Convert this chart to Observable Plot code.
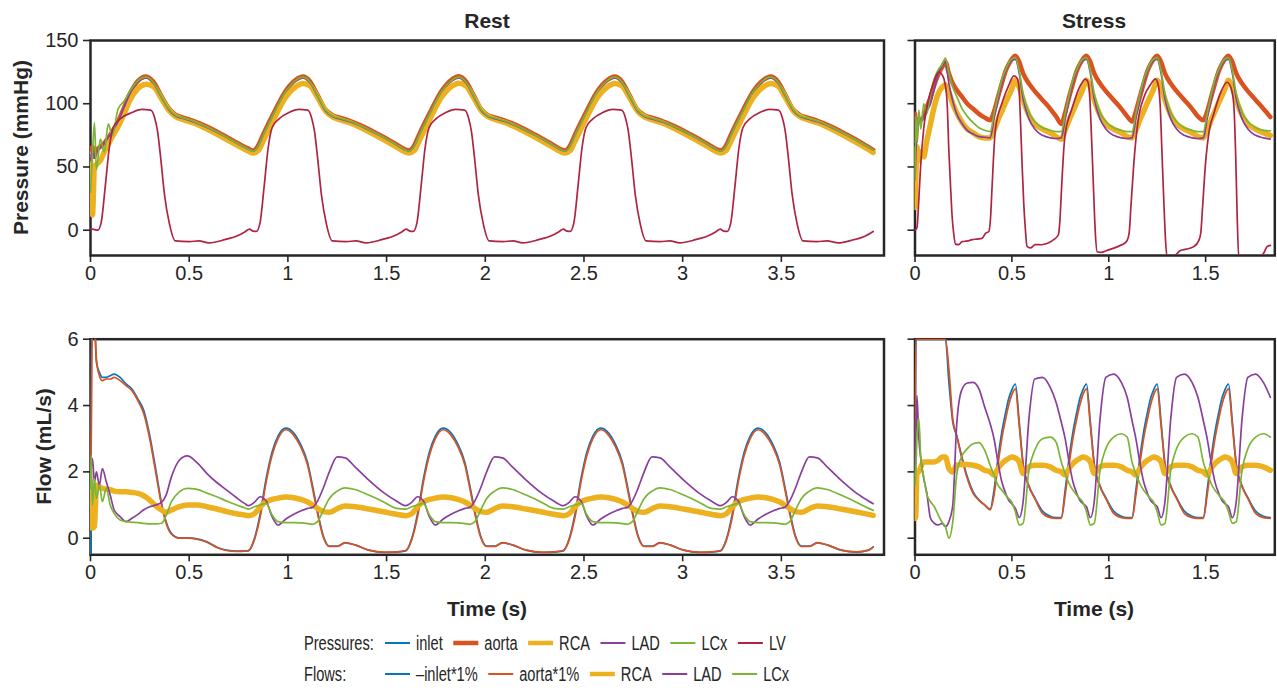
<!DOCTYPE html>
<html><head><meta charset="utf-8">
<script src="https://cdn.jsdelivr.net/npm/d3@7"></script>
<script src="https://cdn.jsdelivr.net/npm/@observablehq/plot@0.6"></script>
<style>
body{margin:0;background:#fff;}
#wrap{position:relative;width:1277px;height:690px;overflow:hidden;background:#fff;}
</style></head><body><div id="wrap"></div>
<script>
// ---------------- DATA ----------------
const restXTicks = [0, 0.5, 1, 1.5, 2, 2.5, 3, 3.5];
const stressXTicks = [0, 0.5, 1, 1.5];
const pressureTicks = [0, 50, 100, 150];
const flowTicks = [0, 2, 4, 6];

// Rest pressures (mmHg), shared time grid (s)
const restPT = [0,0.01,0.02,0.03,0.05,0.07,0.09,0.11,0.14,0.17,0.20,0.24,0.282,0.32,0.356,0.396,0.43,0.47,0.52,0.59,0.67,0.75,0.80,
0.823,0.85,0.873,0.923,0.99,1.04,1.076,1.113,1.15,1.19,1.223,1.263,1.313,1.383,1.463,1.543,1.593,
1.613,1.64,1.663,1.713,1.78,1.83,1.866,1.903,1.94,1.98,2.013,2.053,2.103,2.173,2.253,2.333,2.383,
2.403,2.43,2.453,2.503,2.57,2.62,2.656,2.693,2.73,2.77,2.803,2.843,2.893,2.963,3.043,3.123,3.173,
3.193,3.22,3.243,3.293,3.36,3.41,3.446,3.483,3.52,3.56,3.593,3.633,3.683,3.753,3.833,3.913,3.965];
const restP_inlet = [62.5,66.5,58.5,63.5,66.5,69.5,73.5,78.5,86.5,97.5,108.5,118.5,121.8,117.3,107.3,96.8,91.8,89.3,86.8,82.3,75.8,68.8,64.8,
63.3,67.3,75.5,91.5,111,119.3,121.8,117.8,107.3,95.8,91.5,89.3,86.8,82.3,75.8,68.8,64.3,
63.3,67.3,75.5,91.5,111,119.3,121.8,117.8,107.3,95.8,91.5,89.3,86.8,82.3,75.8,68.8,64.3,
63.3,67.3,75.5,91.5,111,119.3,121.8,117.8,107.3,95.8,91.5,89.3,86.8,82.3,75.8,68.8,64.3,
63.3,67.3,75.5,91.5,111,119.3,121.8,117.8,107.3,95.8,91.5,89.3,86.8,82.3,75.8,68.8,63.8];
const restP_aorta = [62,66,58,63,66,69,73,78,86,97,108,118,121.5,117,107,96.5,91.5,89,86.5,82,75.5,68.5,64.5,
63,67,75,91,110.5,119,121.5,117.5,107,95.5,91.2,89,86.5,82,75.5,68.5,64,
63,67,75,91,110.5,119.2,121.8,117.5,107,95.5,91,89,86.5,82,75.5,68.5,64,
63,67,75,91,110.5,119,121.5,117.5,107,95.5,91.2,89,86.5,82,75.5,68.5,64,
63,67,75,91,110.5,119,121.5,117.5,107,95.5,91.2,89,86.5,82,75.5,68.5,63.5];
const restP_RCA = [60,12,50,52,55,62,68,74,82,92,103,112,115.5,113.5,105,95,90,87.5,85,80,73.5,66.5,62.5,
61,63,70,86,105.5,113.5,116,114,105,94.5,90,87.5,85,80,73.5,66.5,62,
61,63,70,86,105.5,113.8,116.2,114,105,94.5,90,87.5,85,80,73.5,66.5,62,
61,63,70,86,105.5,113.5,116,114,105,94.5,90,87.5,85,80,73.5,66.5,62,
61,63,70,86,105.5,113.5,116,114,105,94.5,90,87.5,85,80,73.5,66.5,61.5];
const restP_LAD = [55,64,57,62,65,69,73,78,86,97,108,117.5,120.5,116,106,95.5,90.5,88.3,85.8,81.3,75,68,64,
62.5,66.5,74.5,90.5,110,118.2,120.5,116.5,106,94.5,90,88,85.8,81.3,75,68,63.5,
62.5,66.5,74.5,90.5,110,118.2,120.5,116.5,106,94.5,90,88,85.8,81.3,75,68,63.5,
62.5,66.5,74.5,90.5,110,118.2,120.5,116.5,106,94.5,90,88,85.8,81.3,75,68,63.5,
62.5,66.5,74.5,90.5,110,118.2,120.5,116.5,106,94.5,90,88,85.8,81.3,75,68,63.5];
const restP_LCx = [30,60,85,48,72,62,84,75,96,102,110,118,121,116.5,106.5,96,91,88.8,86.2,81.6,75.2,68.2,64,
62.5,66.5,74.5,90.5,110,118.5,121,117,106.5,95,90.5,88.5,86.2,81.6,75.2,68.2,63.6,
62.5,66.5,74.5,90.5,110,118.5,121,117,106.5,95,90.5,88.5,86.2,81.6,75.2,68.2,63.6,
62.5,66.5,74.5,90.5,110,118.5,121,117,106.5,95,90.5,88.5,86.2,81.6,75.2,68.2,63.6,
62.5,66.5,74.5,90.5,110,118.5,121,117,106.5,95,90.5,88.5,86.2,81.6,75.2,68.2,63.6];
// Rest LV pressure [t, mmHg]
const restLV = [[0,1],[0.02,0.5],[0.037,0],[0.054,6],[0.075,35],[0.095,65],[0.115,81],[0.15,88],[0.21,93],[0.26,95.5],[0.305,95],[0.325,89],[0.34,78],[0.355,58],[0.375,28],[0.40,5],[0.43,-8.5],[0.50,-9],[0.55,-8.5],[0.60,-10],[0.68,-7.5],[0.75,-4],[0.785,-1],
[0.805,0.8],[0.82,-0.5],[0.84,-1],[0.859,6],[0.88,35],[0.90,65],[0.92,81],[0.955,88],[1.005,93],[1.055,95.5],[1.10,95],[1.12,89],[1.135,78],[1.15,58],[1.17,28],[1.195,5],[1.225,-8.5],[1.295,-9],[1.345,-8.5],[1.395,-10],[1.475,-7.5],[1.545,-4],[1.58,-1],
[1.60,0.8],[1.615,-0.5],[1.635,-1],[1.654,6],[1.675,35],[1.695,65],[1.715,81],[1.75,88],[1.80,93],[1.85,95.5],[1.895,95],[1.915,89],[1.93,78],[1.945,58],[1.965,28],[1.99,5],[2.02,-8.5],[2.09,-9],[2.14,-8.5],[2.19,-10],[2.27,-7.5],[2.34,-4],[2.375,-1],
[2.395,0.8],[2.41,-0.5],[2.43,-1],[2.449,6],[2.47,35],[2.49,65],[2.51,81],[2.545,88],[2.595,93],[2.645,95.5],[2.69,95],[2.71,89],[2.725,78],[2.74,58],[2.76,28],[2.785,5],[2.815,-8.5],[2.885,-9],[2.935,-8.5],[2.985,-10],[3.065,-7.5],[3.135,-4],[3.17,-1],
[3.19,0.8],[3.205,-0.5],[3.225,-1],[3.244,6],[3.265,35],[3.285,65],[3.305,81],[3.34,88],[3.39,93],[3.44,95.5],[3.485,95],[3.505,89],[3.52,78],[3.535,58],[3.555,28],[3.58,5],[3.61,-8.5],[3.68,-9],[3.73,-8.5],[3.79,-10],[3.855,-8],[3.92,-5],[3.965,-1]];

// Rest flows (mL/s), shared time grid (s)
const restFT = [0,0.004,0.01,0.02,0.03,0.045,0.06,0.08,0.1,0.12,0.15,0.18,0.21,0.24,0.27,0.30,0.33,0.36,0.383,0.41,0.45,0.49,0.54,0.59,0.64,0.69,0.74,0.78,
0.80,0.83,0.86,0.89,0.92,0.95,0.99,1.03,1.065,1.10,1.125,1.15,1.18,1.21,1.25,1.29,1.34,1.41,1.49,1.55,
1.597,1.627,1.657,1.687,1.717,1.747,1.787,1.827,1.862,1.897,1.922,1.947,1.977,2.007,2.047,2.087,2.137,2.207,2.287,2.347,
2.395,2.425,2.455,2.485,2.515,2.545,2.585,2.625,2.66,2.695,2.72,2.745,2.775,2.805,2.845,2.885,2.935,3.005,3.085,3.145,
3.192,3.222,3.252,3.282,3.312,3.342,3.382,3.422,3.457,3.492,3.517,3.542,3.572,3.602,3.642,3.682,3.732,3.802,3.882,3.942,3.965];
const restF_inlet = [-0.55,6.5,6.5,6.5,5.3,5.0,4.85,4.85,4.9,4.95,4.85,4.65,4.5,4.2,3.85,3.1,2.1,1.05,0.5,0.15,0.01,0.01,-0.02,-0.11,-0.27,-0.36,-0.39,-0.38,
-0.38,-0.02,0.75,1.8,2.6,3.08,3.32,3.17,2.82,2.28,1.58,0.82,0.06,-0.24,-0.24,-0.13,-0.2,-0.36,-0.43,-0.42,
-0.38,-0.02,0.75,1.8,2.6,3.08,3.32,3.17,2.82,2.28,1.58,0.82,0.06,-0.24,-0.24,-0.13,-0.2,-0.36,-0.43,-0.42,
-0.38,-0.02,0.75,1.8,2.6,3.08,3.32,3.17,2.82,2.28,1.58,0.82,0.06,-0.24,-0.24,-0.13,-0.2,-0.36,-0.43,-0.42,
-0.38,-0.02,0.75,1.8,2.6,3.08,3.32,3.17,2.82,2.28,1.58,0.82,0.06,-0.24,-0.24,-0.13,-0.2,-0.36,-0.42,-0.36,-0.26];
const restF_aorta = [0.5,3.0,6.5,6.5,5.4,4.9,4.75,4.8,4.8,4.85,4.75,4.6,4.45,4.15,3.75,3.0,2.0,1.0,0.45,0.12,0.0,0.0,-0.03,-0.12,-0.28,-0.37,-0.4,-0.39,
-0.37,-0.05,0.65,1.7,2.5,3.0,3.27,3.1,2.75,2.2,1.5,0.75,0.02,-0.25,-0.25,-0.14,-0.2,-0.36,-0.42,-0.41,
-0.37,-0.05,0.65,1.7,2.5,3.0,3.27,3.1,2.75,2.2,1.5,0.75,0.02,-0.25,-0.25,-0.14,-0.2,-0.36,-0.42,-0.41,
-0.37,-0.05,0.65,1.7,2.5,3.0,3.27,3.1,2.75,2.2,1.5,0.75,0.02,-0.25,-0.25,-0.14,-0.2,-0.36,-0.42,-0.41,
-0.37,-0.05,0.65,1.7,2.5,3.0,3.27,3.1,2.75,2.2,1.5,0.75,0.02,-0.25,-0.25,-0.14,-0.2,-0.36,-0.41,-0.36,-0.27];
const restF_RCA = [1.7,0.35,0.3,0.35,1.6,1.55,1.5,1.48,1.46,1.42,1.4,1.4,1.38,1.35,1.28,1.15,0.98,0.85,0.78,0.85,0.95,1.0,1.0,0.95,0.88,0.8,0.74,0.7,
0.68,0.74,0.95,1.1,1.17,1.21,1.24,1.22,1.17,1.09,1.0,0.9,0.8,0.78,0.89,0.97,0.95,0.88,0.79,0.72,
0.68,0.74,0.95,1.1,1.17,1.21,1.24,1.22,1.17,1.09,1.0,0.9,0.8,0.78,0.89,0.97,0.95,0.88,0.79,0.72,
0.68,0.74,0.95,1.1,1.17,1.21,1.24,1.22,1.17,1.09,1.0,0.9,0.8,0.78,0.89,0.97,0.95,0.88,0.79,0.72,
0.68,0.74,0.95,1.1,1.17,1.21,1.24,1.22,1.17,1.09,1.0,0.9,0.8,0.78,0.89,0.97,0.95,0.88,0.79,0.72,0.69];
const restF_LAD = [1.6,2.1,2.4,1.7,2.0,1.6,2.1,1.7,1.3,0.85,0.65,0.5,0.6,0.72,0.86,0.95,1.0,1.08,1.3,1.85,2.35,2.48,2.28,1.95,1.68,1.45,1.22,1.05,
0.98,1.08,1.25,1.12,0.65,0.4,0.58,0.72,0.82,0.9,0.93,1.12,1.52,2.0,2.45,2.42,2.15,1.75,1.35,1.12,
0.98,1.08,1.25,1.12,0.65,0.4,0.58,0.72,0.82,0.9,0.93,1.12,1.52,2.0,2.45,2.42,2.15,1.75,1.35,1.12,
0.98,1.08,1.25,1.12,0.65,0.4,0.58,0.72,0.82,0.9,0.93,1.12,1.52,2.0,2.45,2.42,2.15,1.75,1.35,1.12,
0.98,1.08,1.25,1.12,0.65,0.4,0.58,0.72,0.82,0.9,0.93,1.12,1.52,2.0,2.45,2.42,2.15,1.75,1.35,1.12,1.04];
const restF_LCx = [1.5,2.5,1.0,1.8,1.2,1.6,1.1,1.5,1.0,0.75,0.55,0.5,0.48,0.47,0.45,0.43,0.43,0.45,0.68,1.1,1.4,1.5,1.47,1.36,1.25,1.12,1.0,0.92,
0.88,0.95,1.0,1.05,0.7,0.5,0.47,0.47,0.46,0.44,0.42,0.5,0.85,1.2,1.42,1.52,1.47,1.3,1.08,0.9,
0.88,0.95,1.0,1.05,0.7,0.5,0.47,0.47,0.46,0.44,0.42,0.5,0.85,1.2,1.42,1.52,1.47,1.3,1.08,0.9,
0.88,0.95,1.0,1.05,0.7,0.5,0.47,0.47,0.46,0.44,0.42,0.5,0.85,1.2,1.42,1.52,1.47,1.3,1.08,0.9,
0.88,0.95,1.0,1.05,0.7,0.5,0.47,0.47,0.46,0.44,0.42,0.5,0.85,1.2,1.42,1.52,1.47,1.3,1.08,0.9,0.84];

// Stress: shared time grid (s)
const stressT = [0,0.004,0.01,0.02,0.03,0.045,0.06,0.08,0.1,0.12,0.14,0.157,0.175,0.195,0.215,0.24,0.27,0.30,0.33,0.36,
0.388,0.408,0.428,0.448,0.468,0.483,0.498,0.518,0.538,0.558,0.588,0.618,0.658,0.698,0.728,
0.755,0.775,0.795,0.815,0.835,0.85,0.865,0.885,0.905,0.925,0.955,0.985,1.025,1.065,1.095,
1.12,1.14,1.16,1.18,1.20,1.215,1.23,1.25,1.27,1.29,1.32,1.35,1.39,1.43,1.46,
1.488,1.508,1.528,1.548,1.568,1.583,1.598,1.618,1.638,1.658,1.688,1.718,1.758,1.798,1.834];
const stressP_inlet = [91.5,69.5,85.5,87.5,86.5,89.5,96.5,104.5,114.5,122.5,128.5,132.5,123.5,115.5,110.5,105.5,99.5,95.5,91.5,88.5,
86.5,93.5,104.5,115.5,125.5,130.5,134.5,137.5,132.5,123.5,115.5,109.5,102.5,95.5,89.5,
83.5,92.5,104.5,115.5,125.5,130.5,134.5,137.5,132.5,123.5,115.5,109.5,102.5,95.5,89.5,
85.5,93.5,104.5,115.5,125.5,130.5,134.5,137.5,132.5,123.5,115.5,109.5,102.5,95.5,89.5,
86.5,93.5,104.5,115.5,125.5,130.5,134.5,137.5,132.5,123.5,115.5,109.5,102.5,95.5,89];
const stressP_aorta = [92,70,86,88,87,90,97,105,115,123,129,133,124,116,111,106,100,96,92,89,
87,94,105,116,126,131,135,138,133,124,116,110,103,96,90,
84,93,105,116,126,131,135,138,133,124,116,110,103,96,90,
86,94,105,116,126,131,135,138,133,124,116,110,103,96,90,
87,94,105,116,126,131,135,138,133,124,116,110,103,96,89.5];
const stressP_RCA = [18,40,66,55,62,58,70,84,98,108,113,115,109,100,93,86,80,77,74,73,
73,79,87,94,101,106,111,118.5,113,103,91,84,80,77,74,
72,79,87,94,101,106,111,118.5,113,103,91,84,80,77,74,
73,79,87,94,101,106,111,118.5,113,103,91,84,80,77,74,
73,79,87,94,101,106,111,118.5,113,103,91,84,80,77,75];
const stressP_LAD = [40,60,75,85,88,90,94,100,112,124,130,133,116,102,92,85,79,76,74,73.5,
73,88,103,117,126,131,134,135,124,104,88,80,75,73,72.5,
73,88,103,117,126,131,134,135,124,104,88,80,75,73,72.5,
73,88,103,117,126,131,134,135,124,104,88,80,75,73,72.5,
73,88,103,117,126,131,134,135,124,104,88,80,75,73,72];
const stressP_LCx = [40,90,70,95,80,100,92,108,120,127,131,136,124,113,106,97,90,85,81,79,
78,92,106,119,127,132,135,136.5,126,108,93,86,81,79,78,
78,92,106,119,127,132,135,136.5,126,108,93,86,81,79,78,
78,92,106,119,127,132,135,136.5,126,108,93,86,81,79,78,
78,92,106,119,127,132,135,136.5,126,108,93,86,81,79,78.5];
const stressLV = [[0,0],[0.01,2],[0.02,25],[0.028,48],[0.046,82],[0.071,104],[0.09,114],[0.106,121],[0.123,125],[0.14,123],[0.155,116],[0.166,100],[0.175,62],[0.185,30],[0.192,10],[0.2,-3],[0.209,-11],[0.226,-11.4],[0.243,-9],[0.27,-8.5],[0.295,-7.5],[0.32,-7],[0.346,-6.5],[0.364,-2.5],[0.381,-1],
[0.39,10],[0.398,35],[0.415,80],[0.45,101],[0.484,114.5],[0.51,122],[0.528,120],[0.537,112],[0.544,88],[0.552,55],[0.561,22],[0.57,0],[0.578,-12.8],[0.595,-14],[0.621,-11.4],[0.65,-11.5],[0.673,-10.9],[0.695,-9.5],[0.716,-7.5],[0.74,-3.6],[0.748,8],
[0.757,35],[0.774,75],[0.81,96],[0.846,112],[0.88,119.5],[0.893,117],[0.902,105],[0.912,70],[0.922,30],[0.93,0],[0.94,-17],[0.96,-17.5],[0.99,-16],[1.03,-14],[1.06,-12],[1.08,-10.5],[1.095,-8],[1.105,-2.6],[1.115,20],[1.129,52],[1.15,85],[1.181,105],[1.215,115],[1.241,119.7],[1.255,115],[1.265,100],[1.275,60],[1.285,20],[1.293,-8],[1.301,-21],[1.33,-21],[1.37,-16],[1.40,-15],[1.439,-13],[1.465,-8],[1.475,-2],[1.485,20],[1.499,52],[1.52,80],[1.542,92],[1.575,108],[1.611,117],[1.63,113],[1.645,100],[1.655,60],[1.663,10],[1.671,-21],[1.72,-22],[1.78,-21],[1.80,-18],[1.817,-13],[1.834,-12]];
const stressF_inlet = [1.9,6.0,6.0,6.0,6.0,6.0,6.0,6.0,6.0,6.0,6.0,6.0,4.7,3.5,3.1,2.5,1.85,1.4,1.15,1.0,
0.88,1.45,2.4,3.2,3.8,4.2,4.45,4.65,3.5,2.25,1.58,1.22,0.82,0.66,0.62,
0.62,1.45,2.4,3.2,3.8,4.2,4.45,4.65,3.5,2.25,1.58,1.22,0.82,0.66,0.62,
0.62,1.45,2.4,3.2,3.8,4.2,4.45,4.65,3.5,2.25,1.58,1.22,0.82,0.66,0.62,
0.62,1.45,2.4,3.2,3.8,4.2,4.45,4.65,3.5,2.25,1.58,1.22,0.82,0.66,0.62];
const stressF_aorta = [2.0,6.0,6.0,6.0,6.0,6.0,6.0,6.0,6.0,6.0,6.0,6.0,5.1,3.6,3.1,2.45,1.8,1.35,1.15,1.0,
0.85,1.3,2.2,3.0,3.6,4.0,4.3,4.5,3.4,2.2,1.55,1.2,0.75,0.62,0.6,
0.6,1.3,2.2,3.0,3.6,4.0,4.3,4.5,3.4,2.2,1.55,1.2,0.75,0.62,0.6,
0.6,1.3,2.2,3.0,3.6,4.0,4.3,4.5,3.4,2.2,1.55,1.2,0.75,0.62,0.6,
0.6,1.3,2.2,3.0,3.6,4.0,4.3,4.5,3.4,2.2,1.55,1.2,0.75,0.62,0.6];
const stressF_RCA = [0.6,0.65,2.0,2.0,2.15,2.3,2.3,2.3,2.3,2.35,2.45,2.45,2.1,2.0,2.2,2.22,2.22,2.2,2.15,2.05,
2.0,1.9,2.1,2.25,2.35,2.4,2.45,2.42,2.3,1.95,2.15,2.2,2.2,2.15,2.05,
2.0,1.9,2.1,2.25,2.35,2.4,2.45,2.42,2.3,1.95,2.15,2.2,2.2,2.15,2.05,
2.0,1.9,2.1,2.25,2.35,2.4,2.45,2.42,2.3,1.95,2.15,2.2,2.2,2.15,2.05,
2.0,1.9,2.1,2.25,2.35,2.4,2.45,2.42,2.3,1.95,2.15,2.2,2.2,2.15,2.05];
const stressF_LAD = [2.0,2.8,4.3,3.0,2.4,1.8,1.4,0.6,0.45,0.4,0.45,0.35,0.5,1.0,3.4,4.45,4.68,4.7,4.5,3.95,
3.45,3.0,2.3,1.7,1.35,1.15,1.05,0.9,0.62,1.1,3.6,4.8,4.85,4.55,4.1,
3.5,3.0,2.3,1.7,1.35,1.15,1.05,0.95,0.62,1.1,3.6,4.85,4.95,4.7,4.25,
3.55,3.0,2.3,1.7,1.35,1.15,1.05,0.95,0.62,1.1,3.6,4.85,4.95,4.7,4.25,
3.55,3.0,2.3,1.7,1.35,1.15,1.05,0.95,0.62,1.1,3.6,4.85,4.95,4.7,4.25];
const stressF_LCx = [1.6,2.0,3.0,3.6,2.4,1.85,1.35,1.1,0.95,0.7,0.48,0.35,0.0,0.5,1.9,2.45,2.7,2.85,2.88,2.65,
2.2,1.9,1.6,1.45,1.3,1.2,1.1,0.8,0.4,0.45,2.05,2.65,3.0,3.05,2.9,
2.3,1.95,1.65,1.45,1.3,1.2,1.1,0.8,0.4,0.45,2.05,2.7,3.05,3.15,3.05,
2.3,1.95,1.65,1.45,1.3,1.2,1.1,0.8,0.4,0.45,2.05,2.7,3.05,3.15,3.05,
2.3,1.95,1.65,1.45,1.3,1.2,1.1,0.8,0.45,0.5,2.05,2.7,3.05,3.15,3.05];

const pressureLegend = ["inlet", "aorta", "RCA", "LAD", "LCx", "LV"];
const flowLegend = ["–inlet*1%", "aorta*1%", "RCA", "LAD", "LCx"];

// ---------------- STYLE ----------------
const FONT = '"Liberation Sans", Arial, Helvetica, sans-serif';
const INK = "#262626";
const COL = {inlet:"#0a74bf", aorta:"#DA5220", RCA:"#EDB120", LAD:"#8A3F9C", LCx:"#7AB536", LV:"#AE2443"};
const W_THIN = 1.7;
const pressW = {inlet:W_THIN, aorta:4.5, RCA:5.5, LAD:W_THIN, LCx:W_THIN, LV:W_THIN};
const flowW = {inlet:W_THIN, aorta:W_THIN, RCA:5.5, LAD:W_THIN, LCx:W_THIN};

const ser = (T, V) => T.map((t, i) => ({t, v: V[i]}));
const pairs = (P) => P.map(([t, v]) => ({t, v}));

const wrap = document.getElementById("wrap");

function panel(o) {
  const marks = [
    Plot.frame({stroke: INK, strokeWidth: 2.5}),
    Plot.axisX({ticks: o.xTicks, tickFormat: d => String(d), tickSize: 7, tickPadding: 3, label: null, stroke: INK, strokeWidth: 1.6, fontSize: 20}),
    Plot.axisY({ticks: o.yTicks, tickFormat: o.showY ? (d => String(d)) : (() => ""), tickSize: 7, tickPadding: 5, label: null, stroke: INK, strokeWidth: 1.6, fontSize: 20}),
    ...o.lines.map(l => Plot.line(l.data, {x: "t", y: "v", stroke: l.color, strokeWidth: l.w, curve: "monotone-x", clip: true, strokeLinejoin: "round"}))
  ];
  const svg = Plot.plot({
    width: o.width, height: o.height,
    marginLeft: o.ml, marginRight: o.mr, marginTop: o.mt, marginBottom: o.mb,
    x: {domain: o.xDomain}, y: {domain: o.yDomain},
    style: {fontSize: "20px", fontFamily: FONT, color: INK, background: "transparent", overflow: "visible"},
    marks
  });
  svg.style.position = "absolute";
  svg.style.left = o.left + "px";
  svg.style.top = o.top + "px";
  svg.style.maxWidth = "none";
  wrap.appendChild(svg);
}

const restPressLines = [
  {data: ser(restPT, restP_inlet), color: COL.inlet, w: pressW.inlet},
  {data: ser(restPT, restP_aorta), color: COL.aorta, w: pressW.aorta},
  {data: ser(restPT, restP_RCA), color: COL.RCA, w: pressW.RCA},
  {data: ser(restPT, restP_LAD), color: COL.LAD, w: pressW.LAD},
  {data: ser(restPT, restP_LCx), color: COL.LCx, w: pressW.LCx},
  {data: pairs(restLV), color: COL.LV, w: pressW.LV}
];
const stressPressLines = [
  {data: ser(stressT, stressP_inlet), color: COL.inlet, w: pressW.inlet},
  {data: ser(stressT, stressP_aorta), color: COL.aorta, w: pressW.aorta},
  {data: ser(stressT, stressP_RCA), color: COL.RCA, w: pressW.RCA},
  {data: ser(stressT, stressP_LAD), color: COL.LAD, w: pressW.LAD},
  {data: ser(stressT, stressP_LCx), color: COL.LCx, w: pressW.LCx},
  {data: pairs(stressLV), color: COL.LV, w: pressW.LV}
];
const restFlowLines = [
  {data: ser(restFT, restF_inlet), color: COL.inlet, w: flowW.inlet},
  {data: ser(restFT, restF_aorta), color: COL.aorta, w: flowW.aorta},
  {data: ser(restFT, restF_RCA), color: COL.RCA, w: flowW.RCA},
  {data: ser(restFT, restF_LAD), color: COL.LAD, w: flowW.LAD},
  {data: ser(restFT, restF_LCx), color: COL.LCx, w: flowW.LCx}
];
const stressFlowLines = [
  {data: ser(stressT, stressF_inlet), color: COL.inlet, w: flowW.inlet},
  {data: ser(stressT, stressF_aorta), color: COL.aorta, w: flowW.aorta},
  {data: ser(stressT, stressF_RCA), color: COL.RCA, w: flowW.RCA},
  {data: ser(stressT, stressF_LAD), color: COL.LAD, w: flowW.LAD},
  {data: ser(stressT, stressF_LCx), color: COL.LCx, w: flowW.LCx}
];

const restGeom = {left: 0, width: 895, ml: 90, mr: 11.5, xDomain: [0, 4.02], xTicks: restXTicks, showY: true};
const stressGeom = {left: 895, width: 382, ml: 19.5, mr: 2.7, xDomain: [0, 1.857], xTicks: stressXTicks, showY: false};
const topGeom = {top: 0, height: 290, mt: 40, mb: 35, yDomain: [-20, 150], yTicks: pressureTicks};
const botGeom = {top: 300, height: 290, mt: 38.7, mb: 35.7, yDomain: [-0.5, 6], yTicks: flowTicks};

panel({...restGeom, ...topGeom, lines: restPressLines});
panel({...stressGeom, ...topGeom, lines: stressPressLines});
panel({...restGeom, ...botGeom, lines: restFlowLines});
panel({...stressGeom, ...botGeom, lines: stressFlowLines});

// ---------------- TEXT OVERLAY ----------------
const ov = d3.select(wrap).append("svg")
  .attr("width", 1277).attr("height", 690)
  .style("position", "absolute").style("left", "0px").style("top", "0px")
  .style("font-family", FONT).style("pointer-events", "none");

function label(x, y, txt, opts = {}) {
  const t = ov.append("text").attr("x", x).attr("y", y).text(txt)
    .attr("fill", INK).attr("font-size", opts.size || 20)
    .attr("text-anchor", opts.anchor || "start")
    .attr("font-weight", opts.bold ? "bold" : "normal");
  if (opts.rotate) t.attr("transform", `rotate(-90 ${x} ${y})`);
  return t;
}
label(487, 27.5, "Rest", {bold: true, size: 21, anchor: "middle"});
label(1094, 27.5, "Stress", {bold: true, size: 21, anchor: "middle"});
label(27.5, 147.5, "Pressure (mmHg)", {bold: true, size: 21, anchor: "middle", rotate: true});
label(50.5, 446.5, "Flow (mL/s)", {bold: true, size: 21, anchor: "middle", rotate: true});
label(487, 616, "Time (s)", {bold: true, size: 21, anchor: "middle"});
label(1094, 616, "Time (s)", {bold: true, size: 21, anchor: "middle"});

// Legend (condensed text, as in the reference)
const LEG_SX = 0.75;
function legText(x, y, txt) {
  const t = ov.append("text").attr("x", 0).attr("y", 0).text(txt)
    .attr("fill", INK).attr("font-size", 19.5)
    .attr("transform", `translate(${x},${y}) scale(${LEG_SX},1)`);
  return t.node().getComputedTextLength() * LEG_SX;
}
function legendRow(y, title, names, widths) {
  legText(304, y + 7, title);
  let x = 385;
  names.forEach((name, i) => {
    const key = i === 0 ? "inlet" : (i === 1 ? "aorta" : name);
    ov.append("line").attr("x1", x).attr("x2", x + 25).attr("y1", y).attr("y2", y)
      .attr("stroke", COL[key]).attr("stroke-width", widths[key]);
    const w = legText(x + 31, y + 7, name);
    x = x + 31 + w + 10.5;
  });
}
legendRow(643, "Pressures:", pressureLegend, {inlet: 2, aorta: 4.5, RCA: 4.5, LAD: 2, LCx: 2, LV: 2});
legendRow(674, "Flows:", flowLegend, {inlet: 2, aorta: 2, RCA: 4.5, LAD: 2, LCx: 2});
</script></body></html>
